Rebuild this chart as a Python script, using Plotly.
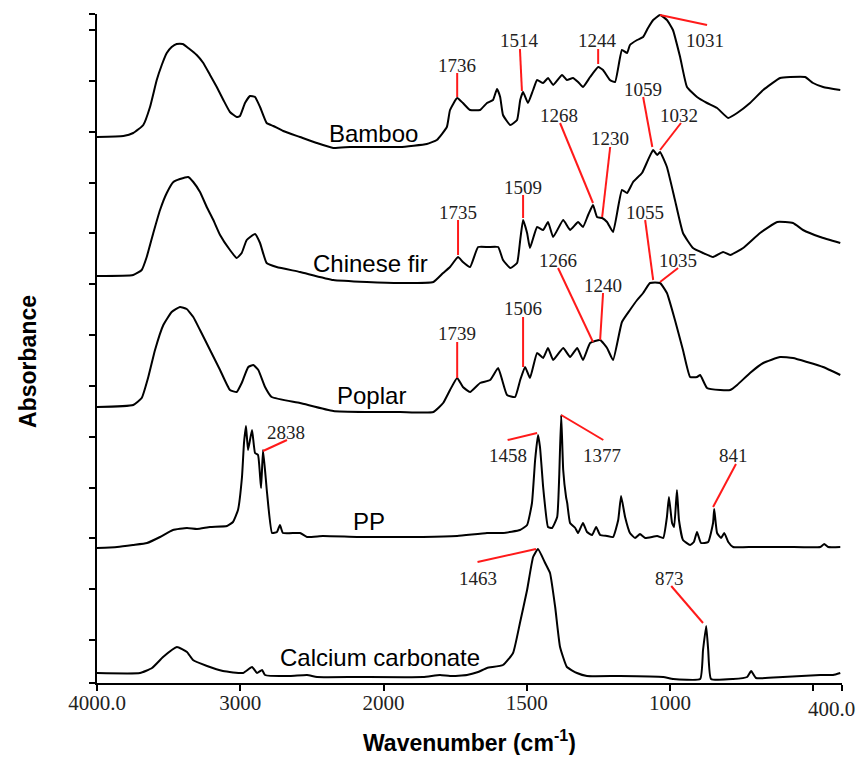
import plotly.graph_objects as go

# ---------------- data (wavenumber in cm-1, absorbance in offset a.u.) ----------------
bamboo_wn = [4000, 3816, 3747, 3677, 3630, 3583, 3548, 3513, 3479, 3444, 3402, 3363, 3304, 3258, 3211,
             3164, 3118, 3072, 3025, 3002, 2967, 2932, 2897, 2862, 2816, 2769, 2700, 2583, 2466, 2351,
             2234, 2117, 1989, 1942, 1849, 1814, 1779, 1768, 1743, 1723, 1698, 1663, 1639, 1618,
             1604, 1593, 1583, 1558, 1534, 1523, 1513, 1496, 1478, 1464, 1443, 1426, 1408, 1377, 1360,
             1339, 1321, 1304, 1279, 1251, 1234, 1210, 1192, 1168, 1150, 1140, 1115, 1094, 1077, 1059,
             1035, 1011, 990, 965, 941, 906, 871, 836, 797, 766, 721, 675, 616, 581, 529, 501, 466, 406]
bamboo_abs = [546, 547, 550, 558, 576, 603, 618, 630, 636, 639, 639, 635, 628, 620, 608,
              596, 583, 571, 566, 567, 580, 587, 586, 576, 560, 557, 552, 546, 540, 535,
              536, 536, 536, 536, 539, 543, 556, 573, 585, 580, 573, 573, 580, 583,
              594, 586, 568, 558, 563, 583, 591, 580, 593, 603, 600, 605, 598, 608, 603,
              605, 601, 596, 606, 616, 613, 603, 601, 633, 630, 638, 643, 646, 655, 663,
              668, 663, 653, 626, 596, 586, 580, 575, 565, 570, 580, 593, 605, 606, 606, 600, 596, 593]

fir_wn = [4000, 3747, 3688, 3653, 3607, 3560, 3513, 3467, 3421, 3363, 3328, 3281, 3234, 3188, 3141,
          3072, 3025, 2990, 2955, 2897, 2862, 2816, 2746, 2583, 2351, 2117, 1942, 1826, 1792, 1768,
          1740, 1723, 1698, 1670, 1635, 1600, 1583, 1558, 1534,
          1523, 1513, 1499, 1489, 1464, 1443, 1426, 1408, 1373, 1349, 1321, 1304, 1286, 1269, 1255,
          1237, 1220, 1199, 1168, 1150, 1129, 1098, 1077, 1059, 1045, 1035, 1011, 983, 955, 920,
          885, 850, 815, 790, 745, 686, 626, 571, 536, 476, 406]
fir_abs = [407, 408, 413, 426, 450, 473, 490, 501, 504, 506, 501, 491, 476, 463, 448,
           433, 425, 430, 443, 449, 440, 420, 416, 411, 403, 401, 400, 401, 410, 416,
           426, 421, 416, 436, 436, 436, 423, 415, 420,
           443, 463, 450, 435, 456, 453, 461, 446, 463, 453, 461, 456, 468, 478, 466,
           465, 461, 451, 493, 490, 501, 510, 523, 533, 528, 531, 516, 483, 450, 435,
           430, 426, 431, 428, 435, 450, 461, 460, 453, 446, 440]

poplar_wn = [4000, 3747, 3688, 3642, 3595, 3537, 3479, 3421, 3374, 3328, 3281, 3211, 3141, 3072, 3025,
             2990, 2944, 2909, 2874, 2827, 2781, 2583, 2351, 2117, 1942, 1826, 1792, 1768, 1743, 1723,
             1698, 1663, 1628, 1600, 1586, 1569, 1541,
             1523, 1506, 1489, 1464, 1443, 1426, 1408, 1373, 1349, 1324, 1304, 1279, 1244, 1220, 1199,
             1168, 1140, 1115, 1094, 1070, 1035, 1011, 983, 955, 930, 906, 895, 871, 825, 790,
             766, 721, 675, 616, 571, 522, 466, 406]
poplar_abs = [276, 278, 285, 306, 333, 358, 371, 376, 374, 366, 353, 333, 313, 293, 291,
              300, 316, 318, 313, 296, 286, 280, 272, 271, 271, 271, 280, 293, 305, 296,
              291, 300, 303, 315, 303, 288, 286,
              303, 316, 305, 330, 325, 335, 323, 335, 326, 335, 323, 340, 343, 335, 323,
              361, 373, 383, 390, 400, 400, 390, 363, 333, 306, 306, 308, 295, 293, 293,
              298, 310, 320, 326, 325, 321, 316, 308]

pp_wn = [4000, 3860, 3749, 3651, 3560, 3470, 3372, 3302, 3211, 3093, 3051, 3016, 2988, 2974, 2960,
         2946, 2918, 2897, 2876, 2855, 2841, 2813, 2778, 2744, 2723, 2702, 2583, 2534, 2423, 2185,
         1977, 1862, 1743, 1639, 1583, 1524, 1499, 1482, 1471, 1461, 1454, 1443, 1436, 1426, 1412,
         1394, 1387, 1380, 1373, 1363, 1359, 1349, 1331, 1321, 1304, 1290, 1272, 1258, 1244, 1220,
         1199, 1181, 1171, 1157, 1140, 1122, 1105, 1087, 1045, 1024, 1011, 1004, 993, 986, 976,
         969, 955, 930, 917, 906, 892, 867, 850, 846, 836, 822, 811, 797, 780, 710,
         591, 476, 462, 448, 406]
pp_abs = [135, 136, 138, 140, 146, 153, 155, 154, 156, 157, 161, 173, 206, 240, 257,
          233, 253, 230, 228, 195, 233, 190, 150, 151, 158, 150, 150, 146, 147, 146,
          146, 146, 147, 150, 150, 153, 158, 180, 223, 248, 236, 196, 176, 156, 155,
          166, 206, 268, 213, 186, 180, 160, 155, 150, 160, 151, 148, 156, 148, 147,
          146, 163, 187, 166, 150, 145, 149, 145, 147, 145, 166, 186, 160, 156, 193,
          163, 143, 138, 141, 151, 140, 141, 160, 174, 150, 145, 150, 141, 136, 136,
          136, 136, 139, 136, 136]

caco3_wn = [4000, 3700, 3616, 3539, 3442, 3372, 3330, 3232, 3121, 2981, 2918, 2883, 2848, 2827, 2653,
            2534, 2464, 2185, 1862, 1803, 1768, 1709, 1670, 1639, 1583, 1548, 1524, 1499, 1478, 1461,
            1436, 1419, 1401, 1384, 1360, 1325, 1290, 1175, 1024, 989, 895, 885, 874, 867, 857,
            780, 731, 717, 700, 606, 476, 431, 406]
caco3_abs = [10, 10, 15, 26, 36, 31, 23, 17, 12, 10, 16, 10, 13, 8, 7,
             8, 6, 6, 6, 8, 7, 8, 11, 15, 18, 30, 60, 93, 126, 134,
             120, 110, 76, 36, 16, 10, 7, 7, 6, 4, 4, 33, 57, 33, 4,
             4, 6, 12, 5, 6, 8, 8, 10]

series_names = ["Bamboo", "Chinese fir", "Poplar", "PP", "Calcium carbonate"]

x_tick_values = [4000, 3000, 2000, 1500, 1000, 500, 400]
x_tick_labels = ["4000.0", "3000", "2000", "1500", "1000", "", "400.0"]

peak_texts = ["1736", "1514", "1244", "1031", "1059", "1032", "1268", "1230", "1509", "1735",
              "1055", "1035", "1266", "1240", "1506", "1739", "2838", "1458", "1377", "841",
              "1463", "873"]

# ---------------- placement (label centre wn, y; leader line wn0, y0, wn1, y1) ----------------
peak_place = [
    (1743, 618, 1743, 610, 1743, 586),
    (1527, 643, 1524, 634, 1517, 592),
    (1255, 643, 1251, 634, 1251, 619),
    (878, 643, 1035, 668, 871, 658),
    (1094, 594, 1094, 586, 1062, 536),
    (969, 568, 962, 560, 1035, 533),
    (1387, 568, 1384, 560, 1269, 480),
    (1209, 545, 1209, 536, 1237, 466),
    (1512, 496, 1513, 488, 1513, 465),
    (1740, 471, 1740, 463, 1740, 428),
    (1087, 471, 1087, 463, 1059, 403),
    (972, 423, 972, 415, 1035, 401),
    (1391, 423, 1391, 415, 1269, 341),
    (1234, 398, 1234, 390, 1244, 343),
    (1513, 375, 1513, 366, 1513, 316),
    (1743, 350, 1743, 341, 1743, 305),
    (2681, 251, 2841, 232, 2674, 243),
    (1567, 228, 1567, 243, 1464, 250),
    (1239, 228, 1380, 268, 1233, 243),
    (780, 228, 770, 219, 850, 176),
    (1672, 105, 1672, 121, 1468, 134),
    (1002, 105, 996, 97, 885, 60),
]
name_place = [(2067, 550), (2094, 420), (2087, 288), (2101, 162), (2025, 26)]


def to_pos(w):
    """Piecewise wavenumber scale: 4000-2000 compressed by half (axis break style)."""
    return w if w <= 2000 else 2000 + (w - 2000) / 2.0


fig = go.Figure()
for wn, ab in [(bamboo_wn, bamboo_abs), (fir_wn, fir_abs), (poplar_wn, poplar_abs),
               (pp_wn, pp_abs), (caco3_wn, caco3_abs)]:
    fig.add_trace(go.Scatter(x=[to_pos(w) for w in wn], y=ab, mode="lines",
                             line=dict(color="black", width=2, shape="spline", smoothing=0.4),
                             showlegend=False, hoverinfo="skip"))

shapes = []
annotations = []
for txt, (lx, ly, x0, y0, x1, y1) in zip(peak_texts, peak_place):
    shapes.append(dict(type="line", xref="x", yref="y", x0=to_pos(x0), y0=y0,
                       x1=to_pos(x1), y1=y1, line=dict(color="#ff1a1a", width=2)))
    annotations.append(dict(x=to_pos(lx), y=ly, xref="x", yref="y", text=txt, showarrow=False,
                            font=dict(family="Liberation Serif", size=19, color="#222222"),
                            xanchor="center", yanchor="middle"))
for name, (nx, ny) in zip(series_names, name_place):
    annotations.append(dict(x=to_pos(nx), y=ny, xref="x", yref="y", text=name, showarrow=False,
                            font=dict(family="Liberation Sans", size=24, color="black"),
                            xanchor="center", yanchor="middle"))

# last tick label sits at the right page edge: drawn right-aligned so it is not clipped
tick_font = dict(family="Liberation Serif", size=21, color="#222222")
axis_labels = list(x_tick_labels)
annotations.append(dict(x=1.0201, y=-0.0389, xref="paper", yref="paper", text=axis_labels[-1],
                        showarrow=False, font=tick_font, xanchor="right", yanchor="middle"))
axis_labels[-1] = ""

annotations.append(dict(x=0.5, y=-0.0867, xref="paper", yref="paper",
                        text="<b>Wavenumber (cm<sup>-1</sup>)</b>", showarrow=False,
                        font=dict(family="Liberation Sans", size=23, color="black"),
                        xanchor="center", yanchor="middle"))
annotations.append(dict(x=-0.0926, y=0.48, xref="paper", yref="paper",
                        text="<b>Absorbance</b>", showarrow=False, textangle=-90,
                        font=dict(family="Liberation Sans", size=23, color="black"),
                        xanchor="center", yanchor="middle"))

y_ticks = [0] + [43 + 50.83 * k for k in range(13)] + [668.9]

# the page body has an 8px default margin: size the figure so it fits the window
# and the plot area lands where the reference has it
fig.update_layout(
    width=849, height=747,
    margin=dict(l=89, r=15, t=6, b=72),
    paper_bgcolor="white", plot_bgcolor="white",
    shapes=shapes, annotations=annotations,
    xaxis=dict(range=[to_pos(4000), to_pos(400)], tickvals=[to_pos(v) for v in x_tick_values],
               ticktext=axis_labels, ticks="outside", ticklen=6, tickwidth=1.5,
               tickcolor="black", showline=True, linecolor="black", linewidth=2,
               showgrid=False, zeroline=False, ticklabelstandoff=-6,
               tickfont=tick_font),
    yaxis=dict(range=[0, 669], tickvals=y_ticks, showticklabels=False, ticks="outside",
               ticklen=6, tickwidth=1.5, tickcolor="black", showline=True, linecolor="black",
               linewidth=2, showgrid=False, zeroline=False),
)

fig.write_html("out.html")
